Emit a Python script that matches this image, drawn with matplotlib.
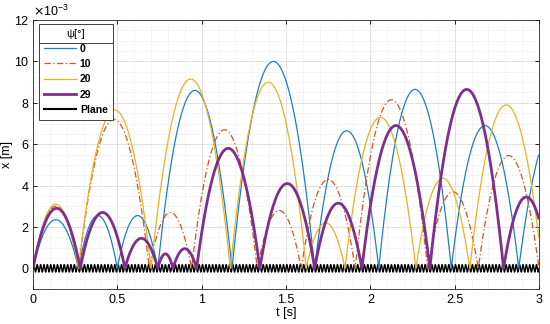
import matplotlib.pyplot as plt
import numpy as np
from matplotlib.lines import Line2D
from matplotlib.ticker import MultipleLocator, ScalarFormatter

plt.rcParams['font.family'] = ['Liberation Sans', 'DejaVu Sans']

# impact times [s] and arc peak heights [m]
t0 = [0.0, 0.27, 0.50, 0.74, 1.18, 1.67, 2.05, 2.48, 2.88, 3.32]
h0 = [2.35e-3, 2.55e-3, 2.55e-3, 8.6e-3, 10.0e-3, 6.65e-3, 8.65e-3, 6.9e-3, 7.0e-3]

t10 = [0.0, 0.27, 0.69, 0.94, 1.33, 1.59, 1.91, 2.34, 2.64, 3.0]
h10 = [3.0e-3, 7.2e-3, 2.7e-3, 6.7e-3, 2.8e-3, 4.3e-3, 8.15e-3, 3.7e-3, 5.45e-3]

t20 = [0.0, 0.27, 0.70, 1.17, 1.62, 1.85, 2.27, 2.59, 3.02]
h20 = [3.1e-3, 7.65e-3, 9.15e-3, 9.0e-3, 2.2e-3, 7.3e-3, 4.35e-3, 7.9e-3]

t29 = [0.0, 0.28, 0.545, 0.74, 0.83, 0.97, 1.345, 1.67, 1.95, 2.353, 2.79, 3.06]
h29 = [2.9e-3, 2.7e-3, 1.45e-3, 0.7e-3, 0.95e-3, 5.8e-3, 4.1e-3, 3.15e-3, 6.9e-3, 8.65e-3, 3.45e-3]

plane_freq = 50.0      # Hz
plane_amp = 0.18e-3    # m

labels = ['0', '10', '20', '29']
colors = ['#1a80c8', '#D95319', '#EDB120', '#7E2F8E']


def arcs(times, heights):
    tt, xx = [], []
    for i in range(len(heights)):
        a, b, h = times[i], times[i + 1], heights[i]
        t = np.linspace(a, b, 80)
        x = 4 * h * (t - a) * (b - t) / (b - a) ** 2
        tt.append(t), xx.append(x)
    t = np.concatenate(tt)
    x = np.concatenate(xx)
    m = t <= 3.0
    return t[m], x[m]


fig = plt.figure(figsize=(5.5, 3.24), dpi=100)
ax = fig.add_axes([0.06, 0.108, 0.92, 0.830])

tp = np.linspace(0, 3, 3001)
ax.plot(tp, plane_amp * np.sin(2 * np.pi * plane_freq * tp), color='k', lw=1.0, zorder=1)

styles = [dict(lw=0.9), dict(lw=0.9, ls=(0, (5, 2, 1, 2))), dict(lw=0.9), dict(lw=2.0)]
for (ts, hs), lab, c, st in zip([(t0, h0), (t10, h10), (t20, h20), (t29, h29)], labels, colors, styles):
    t, x = arcs(ts, hs)
    ax.plot(t, x, color=c, zorder=2, **st)

ax.set_xlim(0, 3)
ax.set_ylim(-1e-3, 12e-3)
ax.xaxis.set_major_locator(MultipleLocator(0.5))
ax.xaxis.set_minor_locator(MultipleLocator(0.1))
ax.yaxis.set_major_locator(MultipleLocator(2e-3))
ax.yaxis.set_minor_locator(MultipleLocator(0.5e-3))
fmt = ScalarFormatter(useMathText=True)
fmt.set_powerlimits((-3, -3))
ax.yaxis.set_major_formatter(fmt)
ax.xaxis.set_major_formatter(plt.FuncFormatter(lambda v, p: f'{v:g}'))
ax.grid(which='major', color='#dcdcdc', lw=0.6)
ax.grid(which='minor', color='#d8d8d8', lw=0.5, ls=(0, (1, 2)))
ax.set_axisbelow(True)
ax.tick_params(which='both', direction='in', top=True, right=True, labelsize=9)
ax.tick_params(which='minor', length=0)
ax.tick_params(which='major', length=3, width=0.6)
ax.tick_params(axis='y', pad=2.5)
for s in ax.spines.values():
    s.set_linewidth(0.6)
    s.set_color('#262626')
ax.yaxis.get_offset_text().set_fontsize(9)
ax.set_xlabel('t [s]', fontsize=9, labelpad=1)
ax.set_ylabel('x [m]', fontsize=9, labelpad=1)

handles = [Line2D([], [], color=c, **st) for c, st in zip(colors, styles)]
handles.append(Line2D([], [], color='k', lw=1.5))
leg = ax.legend(handles, labels + ['Plane'], title='ψ[°]', loc='upper left',
                bbox_to_anchor=(0.008, 0.995), fontsize=7.5, title_fontsize=8,
                frameon=True, fancybox=False, framealpha=1, edgecolor='#404040',
                handlelength=3.0, handletextpad=0.4, borderpad=0.5, labelspacing=0.5,
                borderaxespad=0.2)
leg.get_frame().set_linewidth(0.7)
leg._legend_title_box.sep = 8
for txt in leg.get_texts():
    txt.set_fontweight('bold')

fig.canvas.draw()
r = fig.canvas.get_renderer()
lb = leg.get_window_extent(r)
tb = leg.get_title().get_window_extent(r)
yline = tb.y0 - 4
inv = fig.transFigure.inverted()
(x0, y0), (x1, _) = inv.transform([(lb.x0, yline), (lb.x1, yline)])
fig.add_artist(Line2D([x0, x1], [y0, y0], color='#404040', lw=0.7, transform=fig.transFigure, zorder=10))

fig.savefig('out.png', dpi=100)
